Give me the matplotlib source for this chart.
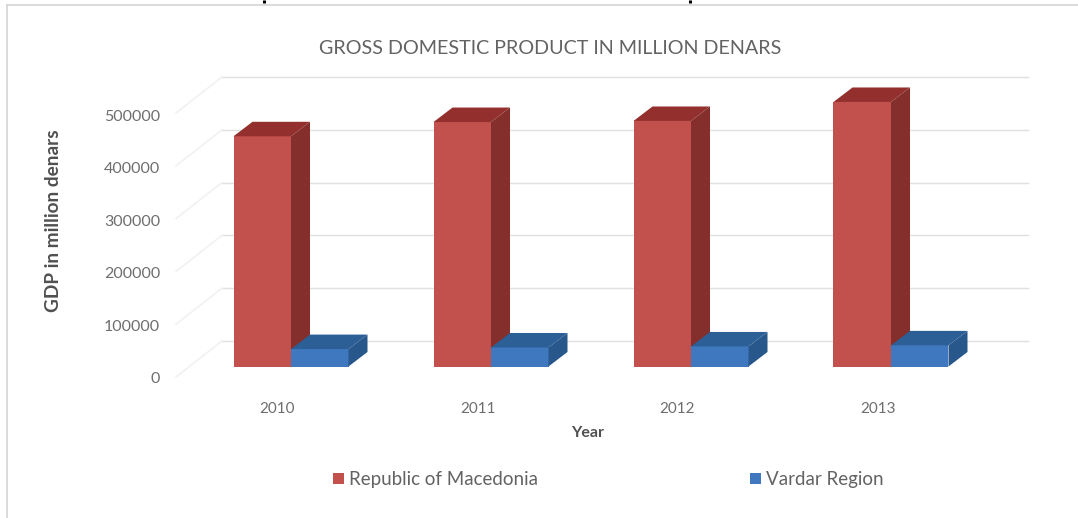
import numpy as np
import matplotlib
matplotlib.use('Agg')
import matplotlib.pyplot as plt

plt.rcParams['font.family'] = ['Lato', 'DejaVu Sans']

# datos
years = ['2010', '2011', '2012', '2013']
macedonia = [436000, 463000, 465000, 501000]
vardar = [33000, 36000, 38000, 40000]
y_ticks = [0, 100000, 200000, 300000, 400000, 500000]

W, H = 1078, 518
# escala: px por unidad
x0_px, dx_px = 291.0, 200.0
y0_px, dy_px = 366.5, 52.8 / 100000

fig = plt.figure(figsize=(W / 100, H / 100), dpi=100)
ax = fig.add_axes([0, 0, 1, 1])
ax.set_xlim(-x0_px / dx_px, (W - x0_px) / dx_px)
ax.set_ylim(-(H - y0_px) / dy_px, y0_px / dy_px)
ax.axis('off')

def px(x, y):
    return x / W, 1 - y / H

bar_w = 57.5 / dx_px
depth_x = 19 / dx_px
depth_y = 14.5 / dy_px

# marco
for xs, ys in [([7, 7], [5, 518]), ([7, 1078], [5, 5])]:
    fig.add_artist(plt.Line2D([x / W for x in xs], [1 - y / H for y in ys], color='#d4d4d4', lw=1.2))
# restos de la linea de arriba
for xp in [264, 690]:
    fig.add_artist(plt.Line2D([xp / W, xp / W], [1, 1 - 2.5 / H], color='black', lw=2.2, solid_capstyle='butt'))

# pared del fondo y lineas diagonales
for t in y_ticks:
    yb = t + 25.5 / dy_px
    ax.plot([-69 / dx_px, 737 / dx_px], [yb, yb], color='#e0e0e0', lw=1.0, zorder=1)
    ax.plot([-115 / dx_px, -69 / dx_px], [yb - 36 / dy_px, yb], color='#f2f2f2', lw=1.3, zorder=1)

def bar3d(x, left, h, front, side, top, z):
    xl = x + left
    xr = xl + bar_w
    ax.bar(xl, h, width=bar_w, align='edge', color=front, zorder=z, linewidth=0)
    ax.fill([xr, xr + depth_x, xr + depth_x, xr], [0, depth_y, h + depth_y, h],
            color=side, zorder=z, linewidth=0)
    ax.fill([xl, xr, xr + depth_x, xl + depth_x], [h, h, h + depth_y, h + depth_y],
            color=top, zorder=z, linewidth=0)

for i in range(len(years)):
    bar3d(i, -bar_w, macedonia[i], '#c2504c', '#842f2c', '#93302d', 3 + i * 2)
    bar3d(i, 0, vardar[i], '#3f78bf', '#28578c', '#2c5f96', 4 + i * 2)

# textos del eje
for t in y_ticks:
    x, y = px(160, 379 - 52.4 * t / 100000)
    fig.text(x, y, str(t), ha='right', va='center', fontsize=11.5, color='#6e6e6e')
for lab, xp in zip(years, [277, 478, 677, 878]):
    x, y = px(xp, 409)
    fig.text(x, y, lab, ha='center', va='center', fontsize=11, color='#6e6e6e')

x, y = px(550, 49)
fig.text(x, y, 'GROSS DOMESTIC PRODUCT IN MILLION DENARS', ha='center', va='center', fontsize=14.2, color='#636363')
x, y = px(588, 433)
fig.text(x, y, 'Year', ha='center', va='center', fontsize=11.5, color='#505050', fontweight='bold')
x, y = px(54, 221)
fig.text(x, y, 'GDP in million denars', ha='center', va='center', rotation=90, fontsize=13.7, color='#505050', fontweight='bold')

# leyenda
for xp, col, lab in [(333, '#c2504c', 'Republic of Macedonia'), (750, '#3f78bf', 'Vardar Region')]:
    fig.patches.append(plt.Rectangle(px(xp, 484), 11 / W, 11 / H, transform=fig.transFigure, color=col, linewidth=0))
    x, y = px(xp + 16, 479)
    fig.text(x, y, lab, ha='left', va='center', fontsize=13.5, color='#636363')

fig.savefig('out.png', dpi=100)
